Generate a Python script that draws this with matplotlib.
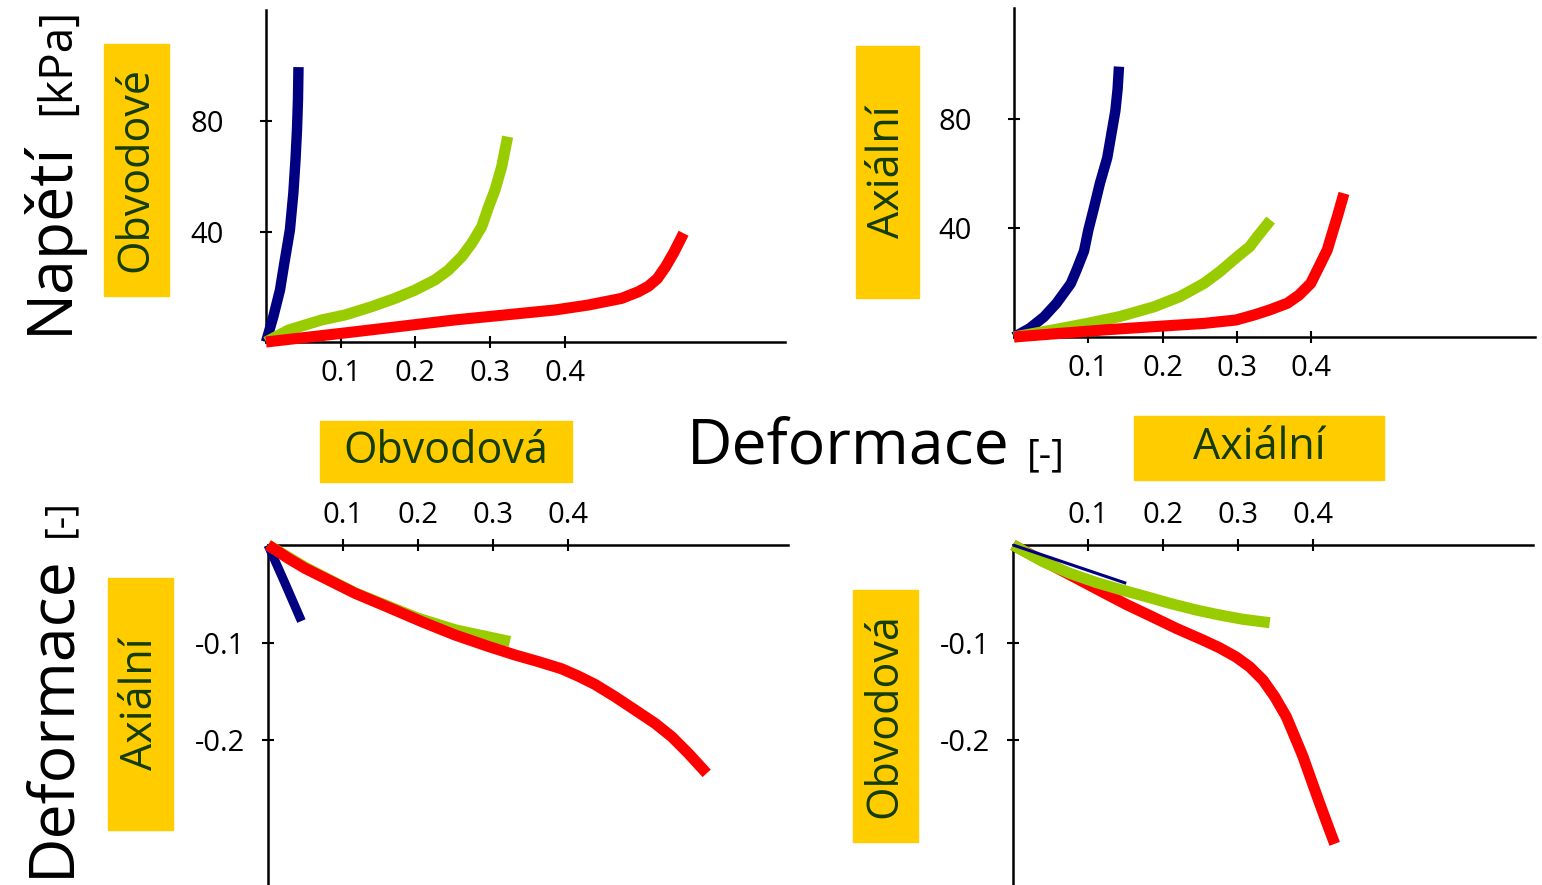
import matplotlib

matplotlib.use("Agg")
import matplotlib.pyplot as plt
from matplotlib.patches import Rectangle

plt.rcParams["font.family"] = ["Open Sans", "DejaVu Sans"]
plt.rcParams["axes.unicode_minus"] = False

W, H = 1542, 885
BLUE = "#000080"
GREEN = "#99cc00"
RED = "#ff0000"
YELLOW = "#ffcc00"
DARK_GREEN = "#143c00"

# Top left: circumferential stress [kPa] vs strain
tl_blue_x = [0, 0.0098, 0.0187, 0.0245, 0.032, 0.0366, 0.0395, 0.0415, 0.0428, 0.0435]
tl_blue_y = [0, 9.2, 18.8, 28.5, 40.6, 53.9, 66.0, 77.0, 87.7, 99.6]
tl_green_x = [0, 0.0299, 0.0746, 0.1058, 0.1415, 0.1727, 0.1995, 0.2262, 0.244,
              0.262, 0.2755, 0.2888, 0.298, 0.3066, 0.3155, 0.32, 0.3235]
tl_green_y = [0, 4.3, 8.0, 9.8, 12.8, 15.8, 18.8, 22.5, 26.0, 30.9, 35.8, 41.8,
              49.0, 55.1, 63.5, 69.6, 74.4]
tl_red_x = [0, 0.119, 0.253, 0.387, 0.4315, 0.476, 0.4984, 0.512, 0.524, 0.535,
            0.5463, 0.559]
tl_red_y = [0, 3.7, 8.0, 11.6, 13.4, 15.8, 18.2, 20.2, 23.0, 27.3, 32.6, 39.4]

# Top right: axial stress [kPa] vs strain
tr_blue_x = [0, 0.0211, 0.0404, 0.0572, 0.0764, 0.0842, 0.0943, 0.1001, 0.1077,
             0.1157, 0.1256, 0.1313, 0.1365, 0.1395, 0.1414]
tr_blue_y = [0, 3.2, 7.4, 12.4, 19.6, 24.6, 31.6, 39.3, 47.5, 56.5, 65.9, 74.9,
             83.1, 91.0, 99.4]
tr_green_x = [0, 0.0526, 0.0987, 0.1423, 0.1886, 0.2231, 0.2559, 0.2771, 0.3007,
              0.3174, 0.3277, 0.3457]
tr_green_y = [0, 2.6, 5.0, 7.5, 11.1, 14.8, 19.7, 24.0, 29.5, 33.2, 36.9, 43.0]
tr_red_x = [0, 0.1212, 0.1876, 0.2559, 0.299, 0.3232, 0.3438, 0.3681, 0.3838,
            0.3996, 0.4107, 0.4219, 0.4286, 0.4354, 0.4444]
tr_red_y = [0, 2.6, 3.8, 5.0, 6.25, 8.1, 9.9, 12.4, 15.4, 19.7, 25.8, 32.0, 38.1,
            44.2, 52.8]

# Bottom left: axial strain vs circumferential strain
bl_blue_x = [0, 0.022, 0.0446]
bl_blue_y = [0, -0.038, -0.078]
bl_green_x = [0, 0.05, 0.116, 0.2, 0.25, 0.323]
bl_green_y = [0, -0.023, -0.049, -0.075, -0.087, -0.099]
bl_red_x = [0, 0.0271, 0.0494, 0.1162, 0.1606, 0.2052, 0.2497, 0.2941, 0.3298,
            0.3609, 0.3921, 0.4143, 0.4366, 0.4633, 0.49, 0.5167, 0.539, 0.5611,
            0.5857]
bl_red_y = [0, -0.0137, -0.0239, -0.0495, -0.0639, -0.0786, -0.0923, -0.104,
            -0.1128, -0.1196, -0.127, -0.1345, -0.143, -0.1556, -0.1692,
            -0.1829, -0.1966, -0.2136, -0.2342]

# Bottom right: circumferential strain vs axial strain
br_blue_x = [0, 0.151]
br_blue_y = [0, -0.0393]
br_green_x = [0, 0.04, 0.0756, 0.1111, 0.1423, 0.1777, 0.2089, 0.2444, 0.2756,
              0.3067, 0.3423]
br_green_y = [0, -0.0171, -0.029, -0.0385, -0.0455, -0.053, -0.0598, -0.0667,
              -0.0718, -0.0762, -0.0797]
br_red_x = [0, 0.0267, 0.0533, 0.0844, 0.12, 0.1511, 0.1867, 0.2177, 0.2533,
            0.2756, 0.2977, 0.3156, 0.3333, 0.3489, 0.3644, 0.3756, 0.3867,
            0.3977, 0.4089, 0.4177, 0.4289]
br_red_y = [0, -0.011, -0.0215, -0.034, -0.0485, -0.061, -0.074, -0.0855,
            -0.0975, -0.1055, -0.115, -0.125, -0.1385, -0.1556, -0.1761,
            -0.1966, -0.2171, -0.241, -0.265, -0.2835, -0.3065]

strain_ticks = [0.1, 0.2, 0.3, 0.4]
strain_labels = ["0.1", "0.2", "0.3", "0.4"]
stress_ticks = [40, 80]
stress_labels = ["40", "80"]
neg_ticks = [-0.1, -0.2]
neg_labels = ["-0.1", "-0.2"]


def panel(fig, x0, y0, x1, y1, sx, sy, upward):
    """Axes whose origin sits at pixel (x0, y0); x axis ends at x1, y axis at y1."""
    if upward:
        rect = [x0 / W, (H - y0) / H, (x1 - x0) / W, (y0 - y1) / H]
    else:
        rect = [x0 / W, (H - y1) / H, (x1 - x0) / W, (y1 - y0) / H]
    ax = fig.add_axes(rect)
    ax.set_facecolor("none")
    ax.set_xlim(0, (x1 - x0) / sx)
    if upward:
        ax.set_ylim(0, (y0 - y1) / sy)
        ax.spines[["top", "right"]].set_visible(False)
    else:
        ax.set_ylim(-(y1 - y0) / sy, 0)
        ax.spines[["bottom", "right"]].set_visible(False)
        ax.xaxis.tick_top()
    for s in ax.spines.values():
        s.set_linewidth(1.8)
    ax.tick_params(direction="inout", length=9, width=1.5, labelsize=21)
    return ax


def curve(ax, x, y, color, lw=8):
    ax.plot(x, y, color=color, lw=lw, solid_capstyle="butt",
            solid_joinstyle="round", clip_on=False, zorder=3)


def label_box(fig, x0, y0, x1, y1, text, vertical):
    fig.add_artist(Rectangle((x0 / W, 1 - y1 / H), (x1 - x0) / W, (y1 - y0) / H,
                             transform=fig.transFigure, color=YELLOW, zorder=0))
    fig.text((x0 + x1) / 2 / W, 1 - (y0 + y1) / 2 / H, text,
             rotation=90 if vertical else 0, ha="center", va="center",
             fontsize=31, color=DARK_GREEN)


def big_text(fig, x, y, text, size, vertical):
    fig.text(x / W, 1 - y / H, text, fontsize=size, rotation=90 if vertical else 0,
             rotation_mode="anchor", ha="center", va="baseline", color="black")


fig = plt.figure(figsize=(W / 100, H / 100), dpi=100)

ax = panel(fig, 266, 342, 785, 10, 747, 2.76, True)
ax.set_xticks(strain_ticks, strain_labels)
ax.set_yticks(stress_ticks, stress_labels)
ax.tick_params(axis="x", pad=8)
ax.tick_params(axis="y", pad=26)
curve(ax, tl_blue_x, tl_blue_y, BLUE, 7.5)
curve(ax, tl_green_x, tl_green_y, GREEN)
curve(ax, tl_red_x, tl_red_y, RED)

ax = panel(fig, 1014, 337, 1535, 8, 742.5, 2.72, True)
ax.set_xticks(strain_ticks, strain_labels)
ax.set_yticks(stress_ticks, stress_labels)
ax.tick_params(axis="x", pad=8)
ax.tick_params(axis="y", pad=26)
curve(ax, tr_blue_x, tr_blue_y, BLUE, 7.5)
curve(ax, tr_green_x, tr_green_y, GREEN)
curve(ax, tr_red_x, tr_red_y, RED)

ax = panel(fig, 268, 545, 788, 885, 749, 975, False)
ax.set_xticks(strain_ticks, strain_labels)
ax.set_yticks(neg_ticks, neg_labels)
ax.tick_params(axis="x", pad=6)
ax.tick_params(axis="y", pad=12)
curve(ax, bl_blue_x, bl_blue_y, BLUE, 6.5)
curve(ax, bl_green_x, bl_green_y, GREEN)
curve(ax, bl_red_x, bl_red_y, RED)

ax = panel(fig, 1013, 545, 1533, 885, 750, 975, False)
ax.set_xticks(strain_ticks, strain_labels)
ax.set_yticks(neg_ticks, neg_labels)
ax.tick_params(axis="x", pad=6)
ax.tick_params(axis="y", pad=12)
curve(ax, br_red_x, br_red_y, RED)
curve(ax, br_green_x, br_green_y, GREEN)
curve(ax, br_blue_x, br_blue_y, BLUE, 2.2)

label_box(fig, 104, 44, 169, 296, "Obvodové", True)
label_box(fig, 856, 46, 919, 298, "Axiální", True)
label_box(fig, 320, 421, 572, 482, "Obvodová", False)
label_box(fig, 1134, 416, 1384, 480, "Axiální", False)
label_box(fig, 108, 578, 173, 830, "Axiální", True)
label_box(fig, 853, 590, 918, 842, "Obvodová", True)

big_text(fig, 67, 237, "Napětí", 45, True)
big_text(fig, 69, 61, "[kPa]", 33, True)
big_text(fig, 848, 464, "Deformace", 45, False)
big_text(fig, 1046, 466, "[-]", 28, False)
big_text(fig, 68, 716, "Deformace", 45, True)
big_text(fig, 70, 518, "[-]", 28, True)

fig.savefig("out.png", dpi=100)
